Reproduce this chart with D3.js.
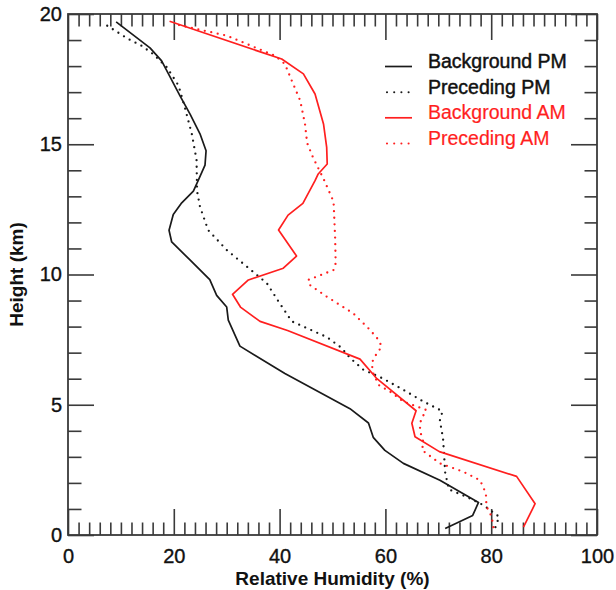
<!DOCTYPE html>
<html>
<head>
<meta charset="utf-8">
<script src="https://cdn.jsdelivr.net/npm/d3@7"></script>
<style>
  body { margin: 0; background: #fff; }
  svg { display: block; }
</style>
</head>
<body>
<svg id="chart" width="616" height="590"></svg>
<script>
// Relative humidity profiles: [height km, RH %]
const backgroundPM = [
  [0.25,71.3],[0.75,76.5],[1.25,77.6],[2.1,70.3],[2.75,63.4],[3.25,59.9],[3.75,57.7],
  [4.3,56.8],[4.85,53.3],[6.2,41.0],[7.25,32.5],[8.25,30.3],[8.75,30.0],[9.2,28.1],
  [9.8,26.8],[10.55,23.1],[11.25,19.6],[11.7,19.1],[12.3,19.9],[12.75,21.5],[13.2,23.7],
  [13.6,24.6],[14.2,25.9],[14.75,26.1],[15.4,24.95],[16.15,23.1],[16.85,21.2],
  [18.2,17.7],[18.7,15.5],[19.7,9.1]
];
const precedingPM = [
  [0.3,80.8],[0.7,81.5],[1.15,78.5],[1.45,75.5],[1.75,72.0],[2.4,71.3],[3.7,70.9],
  [4.4,70.3],[4.75,70.8],[5.12,67.2],[5.57,63.4],[6.0,59.6],[6.35,55.8],[6.8,53.3],
  [7.2,51.6],[7.6,48.9],[8.2,42.3],[8.96,39.8],[9.66,37.6],[10.1,35.0],[10.94,30.0],
  [11.7,26.5],[12.6,24.95],[13.2,24.4],[14.4,24.3],[15.4,23.4],[16.4,22.1],[17.25,20.9],
  [17.95,18.7],[18.46,16.1],[18.78,13.9],[19.04,11.4],[19.36,8.9],[19.64,6.7]
];
const backgroundAM = [
  [0.3,86.1],[1.2,88.3],[2.25,84.8],[3.2,70.2],[3.77,65.6],[4.29,65.0],[4.77,65.8],
  [6.0,58.4],[6.75,55.2],[7.85,41.5],[8.2,36.3],[8.75,32.6],[9.24,31.1],[9.79,34.1],
  [10.24,40.7],[10.71,43.2],[11.71,39.8],[12.28,41.6],[12.73,44.4],[13.6,46.7],
  [13.86,47.3],[14.24,49.0],[14.88,48.9],[15.78,48.3],[16.93,46.7],[17.7,44.5],
  [18.27,40.4],[19.72,19.2]
];
const precedingAM = [
  [0.3,80.4],[0.7,80.1],[1.1,79.1],[1.6,79.0],[2.1,77.9],[2.43,74.7],[2.75,70.3],
  [3.26,66.9],[3.55,67.2],[4.03,66.5],[4.4,66.7],[4.8,67.7],[5.12,63.4],[5.5,60.9],
  [5.76,58.7],[6.21,57.7],[6.59,57.4],[6.85,58.0],[7.23,59.3],[7.49,58.7],[7.87,57.1],
  [8.25,55.2],[8.51,53.9],[8.83,51.4],[9.15,48.9],[9.6,45.7],[9.79,45.4],[10.17,50.2],
  [10.43,50.6],[11.4,50.5],[12.8,50.2],[13.63,48.4],[14.5,46.3],[15.05,45.2],
  [15.78,44.8],[16.67,43.9],[17.44,42.3],[18.08,41.0],[18.4,39.1],[19.17,30.0],
  [19.6,20.4]
];

const seriesNames = ["Background PM", "Preceding PM", "Background AM", "Preceding AM"];
const seriesData = [backgroundPM, precedingPM, backgroundAM, precedingAM];
const seriesColors = ["#1a1a1a", "#1a1a1a", "#ff1f1f", "#ff1f1f"];
const seriesDotted = [false, true, false, true];

const xMajorTicks = [0, 20, 40, 60, 80, 100];
const yMajorTicks = [0, 5, 10, 15, 20];
const xTitle = "Relative Humidity (%)";
const yTitle = "Height (km)";

const svg = d3.select("#chart");
const plotLeft = 68, plotRight = 597, plotTop = 14, plotBottom = 535;

const x = d3.scaleLinear().domain([0, 100]).range([plotLeft, plotRight]);
const y = d3.scaleLinear().domain([0, 20]).range([plotBottom, plotTop]);

const axisColor = "#3a3a3a";
const font = "'Liberation Sans', Arial, sans-serif";
const majorLen = 26, minorLen = 12.5;

function styleAxis(g) {
  g.select(".domain").remove();
  g.selectAll(".tick line").attr("stroke", axisColor).attr("stroke-width", 1.6);
  g.selectAll(".tick text")
    .attr("fill", "#111").attr("stroke", "#111").attr("stroke-width", 0.35)
    .style("font-family", font).style("font-size", "20px");
}

const xMinor = d3.range(0, 101, 2).filter(v => v % 20 !== 0);
const yMinor = d3.range(0, 21, 1).filter(v => v % 5 !== 0);

// bottom
svg.append("g").attr("transform", `translate(0,${plotBottom})`)
  .call(d3.axisBottom(x).tickValues(xMinor).tickSize(-minorLen).tickFormat(""))
  .call(styleAxis);
svg.append("g").attr("transform", `translate(0,${plotBottom})`)
  .call(d3.axisBottom(x).tickValues(xMajorTicks).tickSize(-majorLen).tickPadding(14).tickFormat(d3.format("d")))
  .call(styleAxis);
// top
svg.append("g").attr("transform", `translate(0,${plotTop})`)
  .call(d3.axisTop(x).tickValues(xMinor).tickSize(-minorLen).tickFormat(""))
  .call(styleAxis);
svg.append("g").attr("transform", `translate(0,${plotTop})`)
  .call(d3.axisTop(x).tickValues(xMajorTicks).tickSize(-majorLen).tickFormat(""))
  .call(styleAxis);
// left
svg.append("g").attr("transform", `translate(${plotLeft},0)`)
  .call(d3.axisLeft(y).tickValues(yMinor).tickSize(-minorLen - 1).tickFormat(""))
  .call(styleAxis);
svg.append("g").attr("transform", `translate(${plotLeft},0)`)
  .call(d3.axisLeft(y).tickValues(yMajorTicks).tickSize(-majorLen).tickPadding(6).tickFormat(d3.format("d")))
  .call(styleAxis);
// right
svg.append("g").attr("transform", `translate(${plotRight},0)`)
  .call(d3.axisRight(y).tickValues(yMinor).tickSize(-minorLen).tickFormat(""))
  .call(styleAxis);
svg.append("g").attr("transform", `translate(${plotRight},0)`)
  .call(d3.axisRight(y).tickValues(yMajorTicks).tickSize(-majorLen).tickFormat(""))
  .call(styleAxis);

// frame
svg.append("rect")
  .attr("x", plotLeft).attr("y", plotTop)
  .attr("width", plotRight - plotLeft).attr("height", plotBottom - plotTop)
  .attr("fill", "none").attr("stroke", axisColor).attr("stroke-width", 1.8);

// profiles
const line = d3.line().x(d => x(d[1])).y(d => y(d[0]));
seriesData.forEach((data, i) => {
  const p = svg.append("path")
    .datum(data)
    .attr("d", line)
    .attr("fill", "none")
    .attr("stroke", seriesColors[i])
    .attr("stroke-linejoin", "round");
  if (seriesDotted[i]) {
    p.attr("stroke-width", 2.3).attr("stroke-linecap", "round").attr("stroke-dasharray", "0,6.6");
  } else {
    p.attr("stroke-width", 1.7);
  }
});

// legend
const legendY = [68, 93.7, 119.3, 145];
seriesNames.forEach((name, i) => {
  const ly = legendY[i];
  const s = svg.append("line")
    .attr("x1", 385).attr("x2", 412)
    .attr("y1", ly - 1.5).attr("y2", ly - 1.5)
    .attr("stroke", seriesColors[i]);
  if (seriesDotted[i]) {
    s.attr("x1", 387).attr("x2", 410).attr("stroke-width", 2.1).attr("stroke-linecap", "round").attr("stroke-dasharray", "0,7.2");
  } else {
    s.attr("stroke-width", 1.7);
  }
  const c = i < 2 ? "#111" : "#ff1f1f";
  svg.append("text")
    .attr("x", 428).attr("y", ly)
    .attr("fill", c).attr("stroke", c).attr("stroke-width", i < 2 ? 0.45 : 0.2)
    .style("font-family", font).style("font-size", "19.5px")
    .text(name);
});

// axis titles
svg.append("text")
  .attr("x", (plotLeft + plotRight) / 2).attr("y", 585)
  .attr("text-anchor", "middle")
  .attr("fill", "#111")
  .style("font-family", font).style("font-size", "19px").style("font-weight", "bold")
  .text(xTitle);
svg.append("text")
  .attr("transform", `translate(23,${(plotTop + plotBottom) / 2}) rotate(-90)`)
  .attr("text-anchor", "middle")
  .attr("fill", "#111")
  .style("font-family", font).style("font-size", "19px").style("font-weight", "bold")
  .text(yTitle);
</script>
</body>
</html>
